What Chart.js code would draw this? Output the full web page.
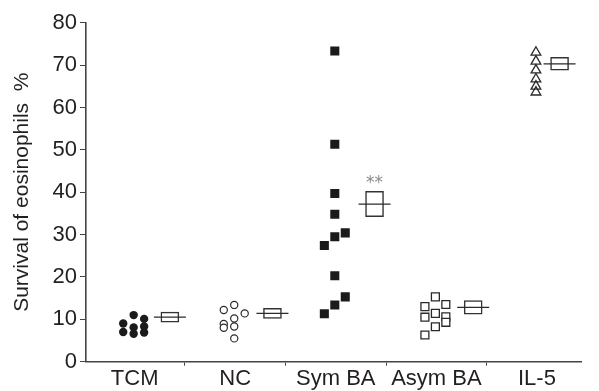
<!DOCTYPE html>
<html>
<head>
<meta charset="utf-8">
<script src="https://cdn.jsdelivr.net/npm/chart.js@4.4.0/dist/chart.umd.min.js"></script>
<style>
html, body { margin: 0; padding: 0; background: #fff; }
#wrap { width: 599px; height: 391px; position: relative; }
</style>
</head>
<body>
<div id="wrap"><canvas id="eosChart"></canvas></div>
<script>
// group labels and raw survival values (%)
const groups = ['TCM', 'NC', 'Sym BA', 'Asym BA', 'IL-5'];
const tcmValues = [9.0, 7.0, 11.0, 8.1, 6.6, 10.1, 8.3, 6.9];
const ncValues = [12.2, 8.9, 8.0, 13.4, 10.2, 8.3, 5.5, 11.4];
const symValues = [27.4, 11.3, 73.3, 51.3, 39.7, 34.8, 29.5, 20.3, 13.4, 30.4, 15.3];
const asymValues = [13.0, 10.5, 6.3, 15.3, 11.4, 8.25, 13.5, 10.6, 9.3];
const il5Values = [73.0, 70.9, 68.8, 66.7, 65.0, 63.6];

// mean and SEM per group, significance mark
const groupMeans = [10.5, 11.4, 37.2, 12.8, 70.3];
const groupSems = [1.2, 1.2, 3.0, 1.6, 1.5];
const significance = ['', '', '**', '', ''];

const yTicks = [0, 10, 20, 30, 40, 50, 60, 70, 80];

// which column of the dot cluster each point sits in (-1 left, 0 middle, 1 right)
const tcmCols = [-1, -1, 0, 0, 0, 1, 1, 1];
const ncCols = [-1, -1, -1, 0, 0, 0, 0, 1];
const symCols = [-1, -1, 0, 0, 0, 0, 0, 0, 0, 1, 1];
const asymCols = [-1, -1, -1, 0, 0, 0, 1, 1, 1];
const il5Cols = [0, 0, 0, 0, 0, 0];

const colStep = 0.104;
const colCenter = -0.01;
const boxOffsets = [0.35, 0.37, 0.385, 0.366, 0.225];

const INK = '#231f20';
const FONT = "'Liberation Sans', Arial, Helvetica, sans-serif";

function dots(groupIndex, values, cols) {
    return values.map((v, i) => ({ x: groupIndex + colCenter + cols[i] * colStep, y: v }));
}

const sigPlugin = {
    id: 'sigMarks',
    afterDatasetsDraw(chart) {
        const ctx = chart.ctx;
        const xs = chart.scales.x;
        const ys = chart.scales.y;
        ctx.save();
        ctx.fillStyle = '#8a8a8a';
        ctx.font = "17px 'DejaVu Sans', sans-serif";
        ctx.textAlign = 'center';
        ctx.textBaseline = 'middle';
        significance.forEach((s, i) => {
            if (!s) return;
            const px = xs.getPixelForValue(i + boxOffsets[i]);
            const py = ys.getPixelForValue(groupMeans[i] + groupSems[i]) - 8;
            ctx.fillText(s, px, py);
        });
        ctx.restore();
    }
};

const ctx = document.getElementById('eosChart');
new Chart(ctx.getContext('2d'), {
    type: 'scatter',
    data: {
        datasets: [
            {
                label: 'TCM',
                data: dots(0, tcmValues, tcmCols),
                pointStyle: 'circle',
                pointRadius: 4.2,
                backgroundColor: '#1b1b1b',
                borderColor: '#1b1b1b',
                borderWidth: 0,
                order: 0
            },
            {
                label: 'NC',
                data: dots(1, ncValues, ncCols),
                pointStyle: 'circle',
                pointRadius: 3.6,
                backgroundColor: '#ffffff',
                borderColor: '#2a2a2a',
                borderWidth: 1.2,
                order: 0
            },
            {
                label: 'Sym BA',
                data: dots(2, symValues, symCols),
                pointStyle: 'rect',
                pointRadius: 6.4,
                backgroundColor: '#1b1b1b',
                borderColor: '#1b1b1b',
                borderWidth: 0,
                order: 0
            },
            {
                label: 'Asym BA',
                data: dots(3, asymValues, asymCols),
                pointStyle: 'rect',
                pointRadius: 5.6,
                backgroundColor: '#ffffff',
                borderColor: '#2a2a2a',
                borderWidth: 1.3,
                order: 0
            },
            {
                label: 'IL-5',
                data: dots(4, il5Values, il5Cols),
                pointStyle: 'triangle',
                pointRadius: 5.6,
                backgroundColor: 'rgba(255,255,255,0)',
                borderColor: '#2a2a2a',
                borderWidth: 1.3,
                order: 0
            },
            {
                label: 'mean',
                data: groupMeans.map((m, i) => ({ x: i + boxOffsets[i], y: m })),
                pointStyle: 'line',
                pointRadius: 16,
                borderColor: '#2a2a2a',
                borderWidth: 1.3,
                order: 1
            },
            {
                type: 'bar',
                label: 'SEM',
                data: groupMeans.map((m, i) => ({ x: i + boxOffsets[i], y: [m - groupSems[i], m + groupSems[i]] })),
                barThickness: 18,
                backgroundColor: '#ffffff',
                borderColor: '#333333',
                borderWidth: 1.5,
                borderSkipped: false,
                order: 2
            }
        ]
    },
    options: {
        responsive: true,
        maintainAspectRatio: false,
        animation: false,
        layout: { padding: { top: 22.7, right: 4, left: 0, bottom: 0 } },
        plugins: {
            legend: { display: false },
            tooltip: { enabled: false }
        },
        scales: {
            x: {
                type: 'linear',
                min: -0.484,
                max: 4.445,
                offset: false,
                afterBuildTicks(scale) {
                    scale.ticks = groups.map((g, i) => ({ value: i }));
                },
                afterFit(scale) { scale.height = 29.3; },
                grid: { drawOnChartArea: false, drawTicks: true, tickLength: 4, color: '#444' },
                border: { display: true, color: '#444', width: 1.6 },
                ticks: {
                    color: INK,
                    font: { family: FONT, size: 22 },
                    padding: 0,
                    maxRotation: 0,
                    autoSkip: false,
                    callback: (v) => groups[v]
                }
            },
            y: {
                min: 0,
                max: 80,
                afterBuildTicks(scale) {
                    scale.ticks = yTicks.map(v => ({ value: v }));
                },
                afterFit(scale) { scale.width = 86; },
                grid: { drawOnChartArea: false, drawTicks: true, tickLength: 6, color: '#444' },
                border: { display: true, color: '#444', width: 1.6 },
                ticks: {
                    color: INK,
                    font: { family: FONT, size: 22 },
                    padding: 3
                },
                title: {
                    display: true,
                    text: 'Survival of eosinophils  %',
                    color: INK,
                    font: { family: FONT, size: 21 },
                    padding: { top: 10, bottom: 0 }
                }
            }
        }
    },
    plugins: [sigPlugin]
});
</script>
</body>
</html>
